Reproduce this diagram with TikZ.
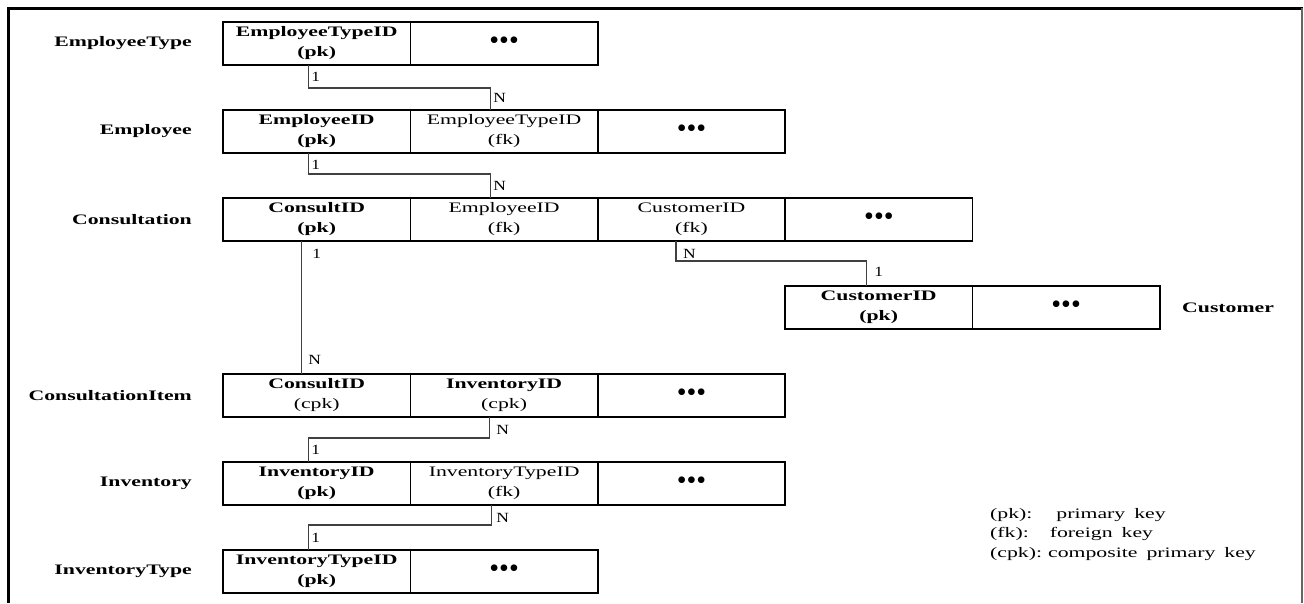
\documentclass[tikz,border=0pt]{standalone}
\usepackage{fontspec}
\setmainfont[FakeStretch=1.5]{Liberation Serif}
\newfontfamily\relfont[FakeStretch=1.25]{Liberation Serif}
\newfontfamily\dotfont{Liberation Serif}
\usetikzlibrary{calc}

\newcommand\moredots{{\dotfont\fontsize{28}{28}\selectfont •••}}

\tikzset{
  cell/.style={draw,line width=1.6pt,minimum width=187.4pt,minimum height=43pt,
    inner sep=0pt,outer sep=0pt,anchor=north west,align=center,
    font=\fontsize{14.5}{20}\selectfont},
  tblname/.style={font=\fontsize{14.5}{17}\selectfont\bfseries,inner sep=0pt},
  rel/.style={line width=1.1pt,black!75},
  card/.style={font=\relfont\fontsize{14}{16}\selectfont,inner sep=0pt,anchor=west},
}

\begin{document}
\begin{tikzpicture}[x=1pt,y=-1pt]
\useasboundingbox (0,0) rectangle (1304,603);

% frame
\draw[line width=3pt] (8,603) -- (8,8) -- (1303,8);
\draw[line width=1.5pt,black!60] (1302,8) -- (1302,603);

\begin{scope}
% EmployeeType
\node[cell] (etpk) at (223,22) {\textbf{EmployeeTypeID}\\\textbf{(pk)}};
\node[cell] (etdots) at (etpk.north east) {\moredots};
\node[tblname,anchor=east] (etname) at (192,43.5) {EmployeeType};

% Employee
\node[cell] (epk) at (223,110) {\textbf{EmployeeID}\\\textbf{(pk)}};
\node[cell] (efk) at (epk.north east) {EmployeeTypeID\\(fk)};
\node[cell] (edots) at (efk.north east) {\moredots};
\node[tblname,anchor=east] (ename) at (192,131.5) {Employee};

% Consultation
\node[cell] (cpk) at (223,198) {\textbf{ConsultID}\\\textbf{(pk)}};
\node[cell] (cemp) at (cpk.north east) {EmployeeID\\(fk)};
\node[cell] (ccus) at (cemp.north east) {CustomerID\\(fk)};
\node[cell] (cdots) at (ccus.north east) {\moredots};
\node[tblname,anchor=east] (cname) at (192,219.5) {Consultation};

% Customer
\node[cell] (cupk) at (785,286) {\textbf{CustomerID}\\\textbf{(pk)}};
\node[cell] (cudots) at (cupk.north east) {\moredots};
\node[tblname,anchor=west] (cuname) at (1182,307.5) {Customer};

% ConsultationItem
\node[cell] (cipk) at (223,374) {\textbf{ConsultID}\\(cpk)};
\node[cell] (ciinv) at (cipk.north east) {\textbf{InventoryID}\\(cpk)};
\node[cell] (cidots) at (ciinv.north east) {\moredots};
\node[tblname,anchor=east] (ciname) at (192,395.5) {ConsultationItem};

% Inventory
\node[cell] (ipk) at (223,462) {\textbf{InventoryID}\\\textbf{(pk)}};
\node[cell] (ifk) at (ipk.north east) {InventoryTypeID\\(fk)};
\node[cell] (idots) at (ifk.north east) {\moredots};
\node[tblname,anchor=east] (iname) at (192,483.5) {Inventory};

% InventoryType
\node[cell] (itpk) at (223,550) {\textbf{InventoryTypeID}\\\textbf{(pk)}};
\node[cell] (itdots) at (itpk.north east) {\moredots};
\node[tblname,anchor=east] (itname) at (192,571.5) {InventoryType};
\end{scope}

% relations
\coordinate (r1a) at ([xshift=-8.5pt]etpk.south);
\coordinate (r1b) at ([xshift=-14pt]efk.north);
\draw[rel] (r1a) -- ++(0,23) -| (r1b);
\node[card] (r1one) at ($(r1a)+(3,12)$) {1};
\node[card] (r1n) at ($(r1b)+(3,-12)$) {N};

\coordinate (r2a) at ([xshift=-8.5pt]epk.south);
\coordinate (r2b) at ([xshift=-14pt]cemp.north);
\draw[rel] (r2a) -- ++(0,21) -| (r2b);
\node[card] (r2one) at ($(r2a)+(3,12)$) {1};
\node[card] (r2n) at ($(r2b)+(3,-12)$) {N};

\coordinate (r3a) at ([xshift=-15.5pt]cpk.south);
\coordinate (r3b) at ([xshift=-15.5pt]cipk.north);
\draw[rel] (r3a) -- (r3b);
\node[card] (r3one) at ($(r3a)+(11,13)$) {1};
\node[card] (r3n) at ($(r3b)+(7,-14)$) {N};

\coordinate (r4a) at ([xshift=-15.5pt]ccus.south);
\coordinate (r4b) at ([xshift=-12.5pt]cupk.north);
\draw[rel] (r4a) -- ++(0,20) -| (r4b);
\node[card] (r4n) at ($(r4a)+(7,13)$) {N};
\node[card] (r4one) at ($(r4b)+(8,-14)$) {1};

\coordinate (r5a) at ([xshift=-15pt]ciinv.south);
\coordinate (r5b) at ([xshift=-8.5pt]ipk.north);
\draw[rel] (r5a) -- ++(0,21) -| (r5b);
\node[card] (r5n) at ($(r5a)+(7,13)$) {N};
\node[card] (r5one) at ($(r5b)+(3,-12)$) {1};

\coordinate (r6a) at ([xshift=-13pt]ifk.south);
\coordinate (r6b) at ([xshift=-8.5pt]itpk.north);
\draw[rel] (r6a) -- ++(0,20) -| (r6b);
\node[card] (r6n) at ($(r6a)+(5,13)$) {N};
\node[card] (r6one) at ($(r6b)+(3,-12)$) {1};

% legend
\node[anchor=north west,align=left,inner sep=0pt,font=\fontsize{14.5}{19.5}\selectfont] (legend) at (990,508)
  {(pk):\hspace{24pt}primary\hspace{9pt}key\\
   (fk):\hspace{21pt}foreign\hspace{9pt}key\\
   (cpk):\hspace{6pt}composite\hspace{9pt}primary\hspace{9pt}key};

\end{tikzpicture}
\end{document}
